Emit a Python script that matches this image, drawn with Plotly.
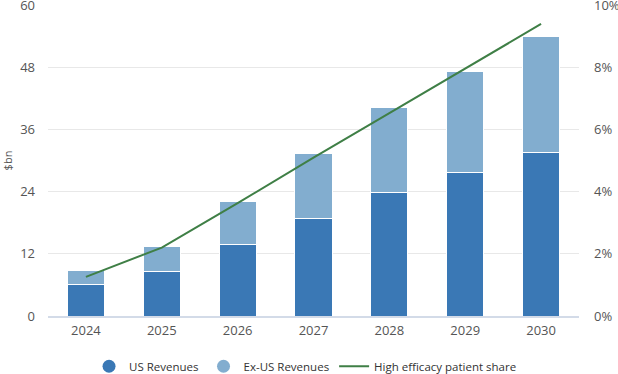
import plotly.graph_objects as go

years = ["2024", "2025", "2026", "2027", "2028", "2029", "2030"]
us_rev = [6.0, 8.65, 13.85, 18.9, 23.8, 27.7, 31.5]
exus_rev = [2.7, 4.85, 8.2, 12.5, 16.45, 19.5, 22.5]
share = [0.0126, 0.022, 0.0363, 0.0509, 0.0652, 0.0796, 0.0939]

US_C = "#3a78b5"
EX_C = "#82adcf"
LN_C = "#3f7f46"
FONT = "Open Sans"
TXT = "#555555"

fig = go.Figure()
fig.add_trace(go.Bar(x=years, y=us_rev, name="US Revenues", marker=dict(color=US_C, line=dict(color="white", width=1)),
                     width=0.49, showlegend=False))
fig.add_trace(go.Bar(x=years, y=exus_rev, name="Ex-US Revenues", marker=dict(color=EX_C, line=dict(color="white", width=1)),
                     width=0.49, showlegend=False))
fig.add_trace(go.Scatter(x=years, y=share, name="High efficacy patient share", mode="lines",
                         line=dict(color=LN_C, width=2), yaxis="y2", showlegend=False))
# legend entries
fig.add_trace(go.Scatter(x=[None], y=[None], mode="markers", name="US Revenues",
                         marker=dict(color=US_C, size=13, symbol="circle")))
fig.add_trace(go.Scatter(x=[None], y=[None], mode="markers", name="Ex-US Revenues",
                         marker=dict(color=EX_C, size=13, symbol="circle")))
fig.add_trace(go.Scatter(x=[None], y=[None], mode="lines", name="High efficacy patient share",
                         line=dict(color=LN_C, width=2)))

fig.update_layout(
    width=618, height=374,
    barmode="stack",
    margin=dict(l=48, r=39, t=5, b=58, autoexpand=False),
    plot_bgcolor="white", paper_bgcolor="white",
    font=dict(family=FONT, size=13, color=TXT),
    xaxis=dict(showgrid=False, showline=True, linecolor="#d3dbe8", linewidth=1.5,
               ticks="", tickfont=dict(size=13, color=TXT), ticklabelstandoff=2, automargin=False),
    yaxis=dict(range=[0, 60], dtick=12, showgrid=True, gridcolor="#e8e8e8", gridwidth=1,
               zeroline=False, ticks="", ticklabelstandoff=12, automargin=False,
               ticklabeloverflow="allow",
               tickfont=dict(size=13, color=TXT),
               title=dict(text="$bn", font=dict(size=11, color=TXT), standoff=6)),
    yaxis2=dict(range=[0, 0.10], dtick=0.02, tickformat=".0%", overlaying="y", side="right",
                showgrid=False, zeroline=False, ticks="", ticklabelstandoff=14, automargin=False,
                ticklabeloverflow="allow",
                tickfont=dict(size=13, color=TXT)),
    legend=dict(orientation="h", x=0.485, xanchor="center", y=-0.115, yanchor="top",
                font=dict(size=11.5, color="#333333"), itemwidth=30, traceorder="normal"),
)

fig.write_html("out.html", post_script="document.body.style.margin='0';",
               config={"displayModeBar": False})
